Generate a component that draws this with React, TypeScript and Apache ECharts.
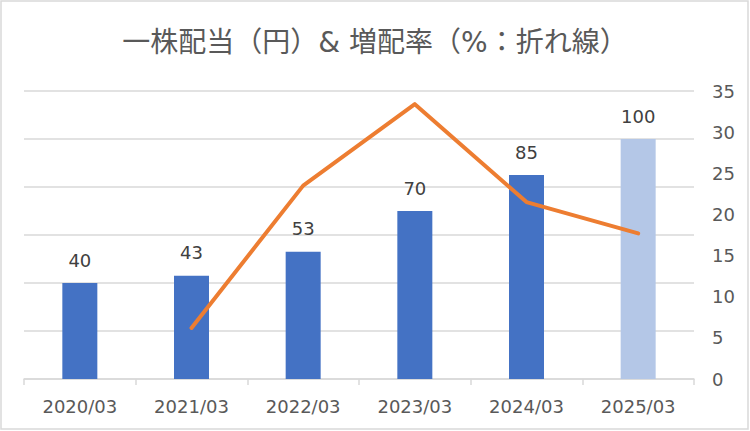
import React, { useEffect, useRef } from "react";
import * as echarts from "echarts";

const categories = ["2020/03", "2021/03", "2022/03", "2023/03", "2024/03", "2025/03"];
const dividends = [40, 43, 53, 70, 85, 100];
const growthRates: (number | null)[] = [null, 6.2, 23.5, 33.4, 21.5, 17.7];
const leftTicks = { min: 0, max: 120, interval: 20 };
const rightTicks = { min: 0, max: 35, interval: 5 };

const FONT = "'DejaVu Sans', 'Noto Sans CJK JP', sans-serif";

export default function App() {
  const ref = useRef<HTMLDivElement>(null);
  useEffect(() => {
    if (!ref.current) return;
    const chart = echarts.init(ref.current, undefined, { renderer: "svg" });
    chart.setOption({
      animation: false,
      backgroundColor: "#ffffff",
      textStyle: { fontFamily: FONT },
      title: {
        text: "一株配当（円）& 増配率（%：折れ線）",
        left: "center",
        top: 28,
        padding: 0,
        textStyle: { fontFamily: FONT, fontSize: 28, fontWeight: "normal", color: "#595959" },
      },
      graphic: [
        {
          type: "rect",
          shape: { x: 1, y: 1, width: 747, height: 428 },
          style: { fill: "none", stroke: "#d9d9d9", lineWidth: 1.5 },
          silent: true,
        },
      ],
      grid: { left: 24, right: 56, top: 91, bottom: 52, containLabel: false },
      xAxis: {
        type: "category",
        data: categories,
        axisLine: { lineStyle: { color: "#d9d9d9", width: 1.5 } },
        axisTick: { show: true, length: 6, lineStyle: { color: "#d9d9d9", width: 1.5 } },
        axisLabel: { color: "#595959", fontSize: 18, fontFamily: FONT, margin: 18 },
      },
      yAxis: [
        {
          type: "value",
          min: leftTicks.min,
          max: leftTicks.max,
          interval: leftTicks.interval,
          axisLabel: { show: false },
          axisLine: { show: false },
          axisTick: { show: false },
          splitLine: { lineStyle: { color: "#d9d9d9", width: 1.5 } },
        },
        {
          type: "value",
          position: "right",
          min: rightTicks.min,
          max: rightTicks.max,
          interval: rightTicks.interval,
          axisLabel: { color: "#595959", fontSize: 18, fontFamily: FONT, margin: 18 },
          axisLine: { show: false },
          axisTick: { show: false },
          splitLine: { show: false },
        },
      ],
      series: [
        {
          type: "bar",
          yAxisIndex: 0,
          barWidth: 35,
          data: dividends.map((v, i) => ({
            value: v,
            itemStyle: { color: i === dividends.length - 1 ? "#B4C7E7" : "#4472C4" },
          })),
          label: {
            show: true,
            position: "top",
            distance: 14,
            color: "#404040",
            fontSize: 18,
            fontFamily: FONT,
          },
        },
        {
          type: "line",
          yAxisIndex: 1,
          data: growthRates.map((v) => (v === null ? "-" : v)),
          showSymbol: false,
          symbol: "none",
          lineStyle: { color: "#ED7D31", width: 4, cap: "round", join: "round" },
          itemStyle: { color: "#ED7D31" },
          z: 5,
        },
      ],
    });
    return () => chart.dispose();
  }, []);
  return (
    <div
      ref={ref}
      style={{ position: "fixed", left: 0, top: 0, width: 750, height: 431, background: "#fff" }}
    />
  );
}
